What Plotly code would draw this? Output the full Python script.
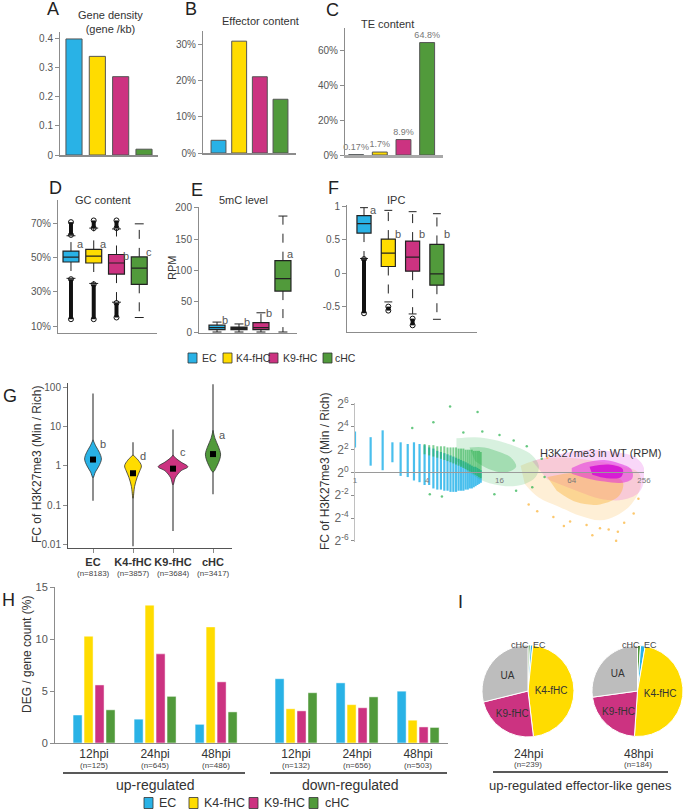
import math
import plotly.graph_objects as go

W, H = 683, 811
FONT = "Liberation Sans, Arial, sans-serif"
AXIS_GREY = "#8c8c8c"
TEXT_GREY = "#555555"

groups = ["EC", "K4-fHC", "K9-fHC", "cHC"]
group_colors = ["#29b2e6", "#ffdc00", "#cc3381", "#519a3b"]

# A-C bar panels
gene_density = [0.40, 0.34, 0.27, 0.02]
effector_pct = [3.5, 30.8, 21.0, 14.8]
te_pct = [0.17, 1.7, 8.9, 64.8]
te_text = ["0.17%", "1.7%", "8.9%", "64.8%"]

# D-F box panels: lower whisker, q1, median, q3, upper whisker
gc_stats = [[38, 47.6, 50.5, 54, 63], [35, 47, 51, 55, 67.5],
            [24, 40.5, 47, 52, 67], [15, 34.5, 44, 50.6, 70]]
gc_out_low = [[14, 37.5], [14, 34.5], [15, 23.5], None]
gc_out_high = [[63.5, 71], [67.5, 72], [67.5, 72], None]
gc_letters = ["a", "a", "b", "c"]
gc_letter_y = [58, 58, 51, 53.5]

mc_stats = [[0, 4, 7, 11, 16], [0, 4, 6, 8, 13],
            [0, 4, 7, 15, 31], [0, 66, 86, 115, 187]]
mc_letters = ["b", "b", "b", "a"]
mc_letter_y = [19, 16, 31, 126]

ipc_stats = [[0.22, 0.60, 0.74, 0.86, 0.98], [-0.43, 0.10, 0.30, 0.51, 0.94],
             [-0.61, 0.03, 0.24, 0.48, 0.92], [-0.69, -0.18, -0.01, 0.43, 0.89]]
ipc_out_low = [[-0.6, 0.21], [-0.56, -0.5], [-0.78, -0.68], None]
ipc_letters = ["a", "b", "b", "b"]
ipc_letter_y = [0.94, 0.58, 0.58, 0.58]

# G violins (FC of H3K27me3), profile half-widths in category units
ec_violin_fc = [0.5, 0.7, 1.0, 1.5, 2.2, 3.2, 4.6]
ec_violin_w = [0.0, 0.06, 0.15, 0.21, 0.16, 0.07, 0.0]
k4_violin_fc = [0.15, 0.3, 0.5, 0.75, 1.0, 1.4, 1.9]
k4_violin_w = [0.0, 0.04, 0.10, 0.17, 0.21, 0.13, 0.0]
k9_violin_fc = [0.33, 0.5, 0.75, 0.95, 1.25, 1.6, 1.9]
k9_violin_w = [0.0, 0.06, 0.2, 0.37, 0.2, 0.06, 0.0]
chc_violin_fc = [0.7, 1.0, 1.5, 2.0, 3.0, 5.0, 8.0]
chc_violin_w = [0.0, 0.1, 0.17, 0.19, 0.14, 0.05, 0.0]
violin_tail = [[0.13, 70], [0.009, 4], [0.022, 8.5], [0.19, 120]]
violin_box = [[1.1, 1.45, 2.0], [0.5, 0.65, 0.9], [0.7, 0.85, 1.05], [1.5, 2.0, 2.5]]
violin_n = ["8183", "3857", "3684", "3417"]
violin_letters = ["b", "d", "c", "a"]
violin_letter_fc = [3.6, 1.8, 2.3, 6.0]

# scatter: H3K27me3 in WT (RPM) vs log2 FC
blue_rpm = [1.0, 1.35, 1.7, 2.05, 2.4, 2.75, 3.1, 3.45, 3.8, 4.15, 4.5, 4.85, 5.2, 5.55, 5.9,
            6.25, 6.6, 6.95, 7.3, 7.65, 8.0, 8.35, 8.7, 9.05, 9.4, 9.75, 10.1, 10.45, 10.8, 11.15]
blue_lo = [2.2, 0.6, 0.2, 0.9, -0.3, -0.4, -0.7, -0.85, -1.1, -1.1, -1.4, -1.5, -1.5, -1.6, -1.6,
           -1.7, -1.7, -1.7, -1.6, -1.6, -1.6, -1.5, -1.5, -1.4, -1.4, -1.3, -1.2, -1.1, -1.0, -0.9]
blue_hi = [3.6, 3.1, 3.7, 2.65, 2.65, 2.5, 2.65, 2.5, 2.4, 2.2, 2.1, 1.9, 1.8, 1.7, 1.6,
           1.5, 1.4, 1.3, 1.2, 1.1, 1.0, 0.9, 0.8, 0.7, 0.6, 0.5, 0.5, 0.4, 0.3, 0.2]
green_rpm = [3.8, 4.15, 4.5, 4.85, 5.2, 5.55, 5.9, 6.25, 6.6, 6.95, 7.3, 7.65, 8.0, 8.35, 8.7,
             9.05, 9.4, 9.75, 10.1, 10.45, 10.8, 11.15]
green_lo = [1.6, 1.5, 1.4, 1.3, 1.2, 1.1, 1.0, 0.9, 0.8, 0.7, 0.6, 0.5, 0.4, 0.3, 0.2,
            0.1, 0.0, -0.1, -0.2, -0.3, -0.4, -0.5]
green_hi = [2.5, 2.4, 2.4, 2.3, 2.3, 2.3, 2.2, 2.2, 2.2, 2.2, 2.1, 2.1, 2.1, 2.0, 2.0,
            2.0, 2.0, 1.9, 1.9, 1.9, 1.9, 1.8]
green_env_rpm = [7, 10, 14, 18, 24, 30, 34, 32, 26, 18, 12, 9, 7]
green_env_fc = [3.0, 3.1, 2.9, 2.6, 2.1, 1.5, 0.6, -0.4, -1.0, -1.2, -0.8, 0.0, 1.0]
green_core_rpm = [9, 12, 16, 20, 22, 18, 13, 10]
green_core_fc = [2.2, 2.2, 1.8, 1.3, 0.5, 0.0, 0.3, 1.0]
green_pts_rpm = [3.0, 4.5, 6.2, 10.5, 11.5, 16, 21, 27, 36, 38, 30, 22, 4.2, 5.3, 14.5, 8]
green_pts_fc = [3.9, 4.4, 5.8, 5.3, 3.6, 3.3, 2.8, 2.3, 1.2, -0.4, -1.3, -1.6, -1.9, -2.1, -1.9, 3.5]
orange_env_rpm = [24, 36, 60, 100, 160, 230, 240, 200, 150, 110, 75, 50, 34, 26]
orange_env_fc = [0.6, 1.2, 1.3, 1.0, 0.6, 0.0, -1.2, -2.8, -3.8, -4.2, -3.8, -3.0, -2.2, -1.0]
orange_core_rpm = [40, 70, 120, 170, 160, 110, 70, 48]
orange_core_fc = [-0.4, 0.0, -0.2, -0.8, -2.0, -2.8, -2.6, -1.6]
orange_pts_rpm = [28, 33, 45, 62, 85, 110, 130, 155, 175, 210, 230, 95, 150, 55, 40]
orange_pts_fc = [-2.8, -3.4, -3.9, -4.3, -4.6, -4.9, -5.0, -5.2, -4.4, -3.6, -2.3, -5.5, -6.0, -4.7, 1.3]
magenta_env_rpm = [30, 50, 90, 150, 220, 256, 256, 230, 170, 110, 70, 40]
magenta_env_fc = [1.0, 1.6, 2.0, 1.8, 1.3, 0.4, -0.8, -1.8, -2.4, -2.3, -1.6, -0.6]
magenta_core_rpm = [64, 85, 120, 160, 200, 205, 170, 120, 85, 64]
magenta_core_fc = [0.4, 0.9, 1.1, 0.8, 0.3, -0.5, -0.9, -0.8, -0.5, -0.1]
magenta_dense_rpm = [90, 130, 170, 165, 125, 95]
magenta_dense_fc = [0.5, 0.7, 0.3, -0.4, -0.5, -0.2]

# H: DEG / gene count (%)
deg_labels = ["12hpi", "24hpi", "48hpi", "12hpi", "24hpi", "48hpi"]
deg_n = ["125", "645", "486", "132", "656", "503"]
deg_x = [0, 1, 2, 3.31, 4.31, 5.31]
deg_ec = [2.7, 2.3, 1.8, 6.2, 5.8, 5.0]
deg_k4 = [10.3, 13.3, 11.2, 3.3, 3.7, 2.2]
deg_k9 = [5.6, 8.6, 5.9, 3.1, 3.4, 1.55]
deg_chc = [3.2, 4.5, 3.0, 4.85, 4.45, 1.5]

# I: pies of up-regulated effector-like genes
pie_labels = ["cHC", "EC", "K4-fHC", "K9-fHC", "UA"]
pie_colors = ["#519a3b", "#29b2e6", "#ffdc00", "#cc3381", "#bdbdbd"]
pie_24 = [2, 2, 111, 55, 69]
pie_48 = [2, 3, 89, 40, 50]
pie_text = ["", "", "K4-fHC", "K9-fHC", "UA"]


def dom_x(a, b):
    return [a / W, b / W]


def dom_y(top, bottom):
    return [1 - bottom / H, 1 - top / H]


def axis(**kw):
    base = dict(showgrid=False, zeroline=False, showline=True, linecolor=AXIS_GREY, linewidth=1,
                ticks="outside", ticklen=4, tickcolor=AXIS_GREY,
                tickfont=dict(size=10, color=TEXT_GREY, family=FONT))
    base.update(kw)
    return base


annotations = []
shapes = []


def ann(x, y, text, size=11, color="#333", xanchor="center", **kw):
    d = dict(x=x / W, y=1 - y / H, xref="paper", yref="paper", text=text, showarrow=False,
             font=dict(size=size, color=color, family=FONT), xanchor=xanchor, yanchor="middle")
    d.update(kw)
    annotations.append(d)


fig = go.Figure()

# ---- A, B, C bars
for vals, xa, ya, wd in [(gene_density, "x", "y", 0.69), (effector_pct, "x2", "y2", 0.72),
                         (te_pct, "x3", "y3", 0.63)]:
    fig.add_trace(go.Bar(x=[0, 1, 2, 3], y=vals, width=wd, xaxis=xa, yaxis=ya,
                         marker=dict(color=group_colors, line=dict(color="#555", width=1)),
                         showlegend=False, hoverinfo="skip"))
fig.data[2].update(text=te_text, textposition="outside", cliponaxis=False, constraintext="none",
                   textfont=dict(size=9, color="#777", family=FONT))


# ---- D, E, F boxes
def add_boxes(stats, xa, ya, width, out_low=None, out_high=None):
    for i, (lw, q1, med, q3, uw) in enumerate(stats):
        # dashed whiskers
        fig.add_trace(go.Scatter(x=[i, i, None, i, i], y=[q3, uw, None, q1, lw], mode="lines",
                                 line=dict(color="#222", width=1, dash="dash"),
                                 xaxis=xa, yaxis=ya, showlegend=False, hoverinfo="skip"))
        c = width * 0.28
        fig.add_trace(go.Scatter(x=[i - c, i + c, None, i - c, i + c], y=[uw, uw, None, lw, lw],
                                 mode="lines", line=dict(color="#222", width=1),
                                 xaxis=xa, yaxis=ya, showlegend=False, hoverinfo="skip"))
        fig.add_trace(go.Box(x=[i], q1=[q1], median=[med], q3=[q3], lowerfence=[q1], upperfence=[q3],
                             width=width, fillcolor=group_colors[i], line=dict(color="#222", width=1.2),
                             xaxis=xa, yaxis=ya, showlegend=False, hoverinfo="skip", orientation="v"))
    for lst in (out_low, out_high):
        if not lst:
            continue
        for i, rng in enumerate(lst):
            if rng is None:
                continue
            fig.add_trace(go.Scatter(x=[i, i], y=rng, mode="lines+markers",
                                     line=dict(color="#111", width=4),
                                     marker=dict(symbol="circle-open", size=5, color="#111"),
                                     xaxis=xa, yaxis=ya, showlegend=False, hoverinfo="skip"))


add_boxes(gc_stats, "x4", "y4", 0.7, gc_out_low, gc_out_high)
add_boxes(mc_stats, "x5", "y5", 0.73)
add_boxes(ipc_stats, "x6", "y6", 0.58, ipc_out_low)

for letters, ly, xa, ya, off in [(gc_letters, gc_letter_y, "x4", "y4", 0.42),
                                 (mc_letters, mc_letter_y, "x5", "y5", 0.35),
                                 (ipc_letters, ipc_letter_y, "x6", "y6", 0.4)]:
    for i, t in enumerate(letters):
        annotations.append(dict(x=i + off, y=ly[i], xref=xa, yref=ya, text=t, showarrow=False,
                                font=dict(size=11, color="#555", family=FONT)))

# ---- G violins
violins = [(ec_violin_fc, ec_violin_w), (k4_violin_fc, k4_violin_w),
           (k9_violin_fc, k9_violin_w), (chc_violin_fc, chc_violin_w)]
for i, (fc, wv) in enumerate(violins):
    fig.add_trace(go.Scatter(x=[i, i], y=violin_tail[i], mode="lines", line=dict(color="#444", width=1.2),
                             xaxis="x7", yaxis="y7", showlegend=False, hoverinfo="skip"))
    xs = [i + w for w in wv] + [i - w for w in wv[::-1]]
    ys = fc + fc[::-1]
    fig.add_trace(go.Scatter(x=xs, y=ys, mode="lines", fill="toself", fillcolor=group_colors[i],
                             line=dict(color="#333", width=0.8, shape="spline"),
                             xaxis="x7", yaxis="y7", showlegend=False, hoverinfo="skip"))
    q1, med, q3 = violin_box[i]
    fig.add_trace(go.Box(x=[i], q1=[q1], median=[med], q3=[q3], lowerfence=[q1], upperfence=[q3],
                         width=0.1, fillcolor="white", line=dict(color="#222", width=0.8),
                         xaxis="x7", yaxis="y7", showlegend=False, hoverinfo="skip"))
    fig.add_trace(go.Scatter(x=[i], y=[med], mode="markers", marker=dict(symbol="square", size=6, color="black"),
                             xaxis="x7", yaxis="y7", showlegend=False, hoverinfo="skip"))
    annotations.append(dict(x=i + 0.24, y=math.log10(violin_letter_fc[i]), xref="x7", yref="y7",
                            text=violin_letters[i], showarrow=False,
                            font=dict(size=11, color="#555", family=FONT)))
    annotations.append(dict(x=i, y=1 - 573 / H, xref="x7", yref="paper", text="(n=%s)" % violin_n[i],
                            showarrow=False, yanchor="middle",
                            font=dict(size=8, color="#444", family=FONT)))


# ---- scatter panel
def seg(xv, lo, hi):
    xs, ys = [], []
    for a, b, c in zip(xv, lo, hi):
        xs += [a, a, None]
        ys += [b, c, None]
    return xs, ys


def cloud(xv, yv, color, op):
    fig.add_trace(go.Scatter(x=xv, y=yv, mode="lines", fill="toself", fillcolor=color, opacity=op,
                             line=dict(width=0, shape="spline"), xaxis="x8", yaxis="y8",
                             showlegend=False, hoverinfo="skip"))


def dots(xv, yv, color, size=2.5):
    fig.add_trace(go.Scatter(x=xv, y=yv, mode="markers", marker=dict(color=color, size=size, opacity=0.7),
                             xaxis="x8", yaxis="y8", showlegend=False, hoverinfo="skip"))


BLUE_P, GREEN_P, ORANGE_P, MAG_P = "#2ab4ea", "#27b04c", "#fbb030", "#e01fe0"
cloud(orange_env_rpm, orange_env_fc, ORANGE_P, 0.2)
cloud(magenta_env_rpm, magenta_env_fc, MAG_P, 0.18)
cloud(orange_core_rpm, orange_core_fc, ORANGE_P, 0.4)
cloud(magenta_core_rpm, magenta_core_fc, MAG_P, 0.5)
cloud(magenta_dense_rpm, magenta_dense_fc, "#d40fd4", 0.85)
dots(orange_pts_rpm, orange_pts_fc, ORANGE_P)
bx, by = seg(blue_rpm, blue_lo, blue_hi)
fig.add_trace(go.Scatter(x=bx, y=by, mode="lines", line=dict(color=BLUE_P, width=2.2), opacity=0.85,
                         xaxis="x8", yaxis="y8", showlegend=False, hoverinfo="skip"))
cloud(green_env_rpm, green_env_fc, GREEN_P, 0.18)
cloud(green_core_rpm, green_core_fc, GREEN_P, 0.3)
gx, gy = seg(green_rpm, green_lo, green_hi)
fig.add_trace(go.Scatter(x=gx, y=gy, mode="lines", line=dict(color=GREEN_P, width=2), opacity=0.6,
                         xaxis="x8", yaxis="y8", showlegend=False, hoverinfo="skip"))
dots(green_pts_rpm, green_pts_fc, GREEN_P)

# ---- H bars
bar_offsets = [-0.27, -0.09, 0.09, 0.27]
for k, vals in enumerate([deg_ec, deg_k4, deg_k9, deg_chc]):
    fig.add_trace(go.Bar(x=[gx_ + bar_offsets[k] for gx_ in deg_x], y=vals, width=0.148,
                         marker=dict(color=group_colors[k], line=dict(color="rgba(255,255,255,0.6)", width=0.8)),
                         xaxis="x9", yaxis="y9", showlegend=False, hoverinfo="skip"))
for xv, n in zip(deg_x, deg_n):
    annotations.append(dict(x=xv, y=1 - 765 / H, xref="x9", yref="paper", text="(n=%s)" % n,
                            showarrow=False, yanchor="middle",
                            font=dict(size=8, color="#444", family=FONT)))

# ---- I pies
for vals, dx in [(pie_24, dom_x(482, 574)), (pie_48, dom_x(592, 683))]:
    fig.add_trace(go.Pie(values=vals, labels=pie_labels, sort=False, direction="clockwise", rotation=0,
                         marker=dict(colors=pie_colors, line=dict(color="white", width=1)),
                         domain=dict(x=dx, y=dom_y(645, 737)), text=pie_text, textinfo="text",
                         textposition="inside", insidetextorientation="horizontal",
                         textfont=dict(size=10, color="#333", family=FONT),
                         showlegend=False, hoverinfo="skip"))

# ---- text
for t, x, y in [("A", 53, 9), ("B", 191, 9), ("C", 332, 10), ("D", 55, 188), ("E", 197, 190),
                ("F", 333, 188), ("G", 10, 396), ("H", 8, 600), ("I", 460, 602)]:
    ann(x, y, t, size=18, color="#222")
ann(110, 22, "Gene density<br>(gene /kb)", size=11)
ann(260, 21, "Effector content", size=11)
ann(387, 24, "TE content", size=11)
ann(103, 200, "GC content", size=11)
ann(243, 200, "5mC level", size=11)
ann(396, 200, "IPC", size=11)
ann(172, 268, "RPM", size=11, textangle=-90)
ann(37, 465, "FC of H3K27me3 (Min / Rich)", size=12, textangle=-90)
ann(325, 472, "FC of H3K27me3 (Min / Rich)", size=12, textangle=-90)
ann(600, 453, "H3K27me3 in WT (RPM)", size=11)
ann(27, 655, "DEG / gene count (%)", size=12, textangle=-90)
ann(155, 785, "up-regulated", size=14)
ann(350, 785, "down-regulated", size=14)
ann(580, 785, "up-regulated effector-like genes", size=13)
ann(528, 754, "24hpi", size=12)
ann(528, 764, "(n=239)", size=8, color="#444")
ann(638, 754, "48hpi", size=12)
ann(638, 764, "(n=184)", size=8, color="#444")
ann(520, 645, "cHC", size=9, color="#444")
ann(539, 645, "EC", size=9, color="#444")
ann(631, 645, "cHC", size=9, color="#444")
ann(650, 645, "EC", size=9, color="#444")

for x0, x1, y in [(63, 245, 773), (270, 447, 773), (493, 668, 772)]:
    shapes.append(dict(type="line", xref="paper", yref="paper", x0=x0 / W, x1=x1 / W,
                       y0=1 - y / H, y1=1 - y / H, line=dict(color="#222", width=1.5)))

# legends
for sq_x, tx_x, y, size, sw, sh in [([188, 223, 269, 323], [200, 234, 281, 333], 358, 10.5, 9, 10),
                                    ([144, 189, 249, 309], [157, 202, 262, 323], 803, 12.5, 9, 11)]:
    for k in range(4):
        shapes.append(dict(type="rect", xref="paper", yref="paper",
                           x0=sq_x[k] / W, x1=(sq_x[k] + sw) / W,
                           y0=1 - (y + sh / 2) / H, y1=1 - (y - sh / 2) / H,
                           fillcolor=group_colors[k], line=dict(color="#333", width=0.8)))
        ann(tx_x[k], y, groups[k], size=size, color="#333", xanchor="left")


def pct(vals):
    return ["%d%%" % v for v in vals]


fig.update_layout(
    width=W, height=H, margin=dict(l=0, r=0, t=0, b=0, autoexpand=False),
    paper_bgcolor="white", plot_bgcolor="white", showlegend=False,
    font=dict(family=FONT, color="#333"),
    annotations=annotations, shapes=shapes,
    # A
    xaxis=axis(domain=dom_x(60, 158), range=[-0.6, 3.6], showticklabels=False, ticks="",
               anchor="y", linewidth=1.5),
    yaxis=axis(domain=dom_y(32, 155), range=[0, 0.424], tickvals=[0, 0.1, 0.2, 0.3, 0.4],
               ticktext=["0", "0.1", "0.2", "0.3", "0.4"], anchor="x"),
    # B
    xaxis2=axis(domain=dom_x(203, 296), range=[-0.75, 3.75], showticklabels=False, ticks="",
                anchor="y2", linewidth=1.5),
    yaxis2=axis(domain=dom_y(31, 153), range=[0, 33.6], tickvals=[0, 10, 20, 30],
                ticktext=pct([0, 10, 20, 30]), anchor="x2"),
    # C
    xaxis3=axis(domain=dom_x(345, 443), range=[-0.47, 3.67], showticklabels=False, ticks="",
                anchor="y3", linewidth=3, linecolor="#a8a8a8"),
    yaxis3=axis(domain=dom_y(28, 155), range=[0, 73.2], tickvals=[0, 20, 40, 60],
                ticktext=pct([0, 20, 40, 60]), anchor="x3"),
    # D
    xaxis4=axis(domain=dom_x(58, 157), range=[-0.57, 3.78], showticklabels=False, ticks="", anchor="y4"),
    yaxis4=axis(domain=dom_y(200, 333), range=[5.9, 84], tickvals=[10, 30, 50, 70],
                ticktext=pct([10, 30, 50, 70]), anchor="x4"),
    # E
    xaxis5=axis(domain=dom_x(199, 297), range=[-0.82, 3.64], showticklabels=False, ticks="", anchor="y5"),
    yaxis5=axis(domain=dom_y(207, 333), range=[-1.6, 201.6], tickvals=[0, 50, 100, 150, 200], anchor="x5"),
    # F
    xaxis6=axis(domain=dom_x(347, 477), range=[-0.70, 4.65], showticklabels=False, ticks="", anchor="y6"),
    yaxis6=axis(domain=dom_y(205, 332), range=[-0.88, 1.02], tickvals=[-0.5, 0, 0.5, 1],
                ticktext=["-0.5", "0", "0.5", "1"], anchor="x6"),
    # G
    xaxis7=axis(domain=dom_x(68, 232), range=[-0.625, 3.475], tickvals=[0, 1, 2, 3],
                ticktext=["<b>%s</b>" % g for g in groups],
                tickfont=dict(size=11, color="#333", family=FONT), anchor="y7", linecolor="#555"),
    yaxis7=axis(domain=dom_y(383, 548), type="log", range=[-2.09, 2.11],
                tickvals=[0.01, 0.1, 1, 10, 100], ticktext=["0.01", "0.1", "1", "10", "100"],
                anchor="x7", linecolor="#555"),
    # scatter
    xaxis8=axis(domain=dom_x(355, 644), type="log", range=[0, math.log10(256)],
                tickvals=[1, 4, 16, 64, 256], ticktext=["1", "4", "16", "64", "256"], ticks="",
                tickfont=dict(size=8, color="#777", family=FONT), anchor="free",
                position=1 - 472 / H, linecolor="#9a9a9a"),
    yaxis8=axis(domain=dom_y(403, 542), range=[-6.1, 6.1], tickvals=[-6, -4, -2, 0, 2, 4, 6],
                ticktext=["2<sup>%d</sup>" % v for v in [-6, -4, -2, 0, 2, 4, 6]], ticklen=3,
                tickfont=dict(size=12, color="#666", family=FONT), anchor="x8", linecolor="#c0c0c0"),
    # H
    xaxis9=axis(domain=dom_x(55, 448), range=[-0.64, 5.80], tickvals=deg_x, ticktext=deg_labels, ticks="",
                tickfont=dict(size=12, color="#333", family=FONT), anchor="y9"),
    yaxis9=axis(domain=dom_y(587, 743), range=[0, 15.05], tickvals=[0, 5, 10, 15], anchor="x9",
                tickfont=dict(size=11, color=TEXT_GREY, family=FONT)),
)

# the page body has a default margin; drop it so the figure sits at the window's corner
fig.write_html("out.html", config={"displayModeBar": False},
               post_script="document.body.style.margin='0';")
